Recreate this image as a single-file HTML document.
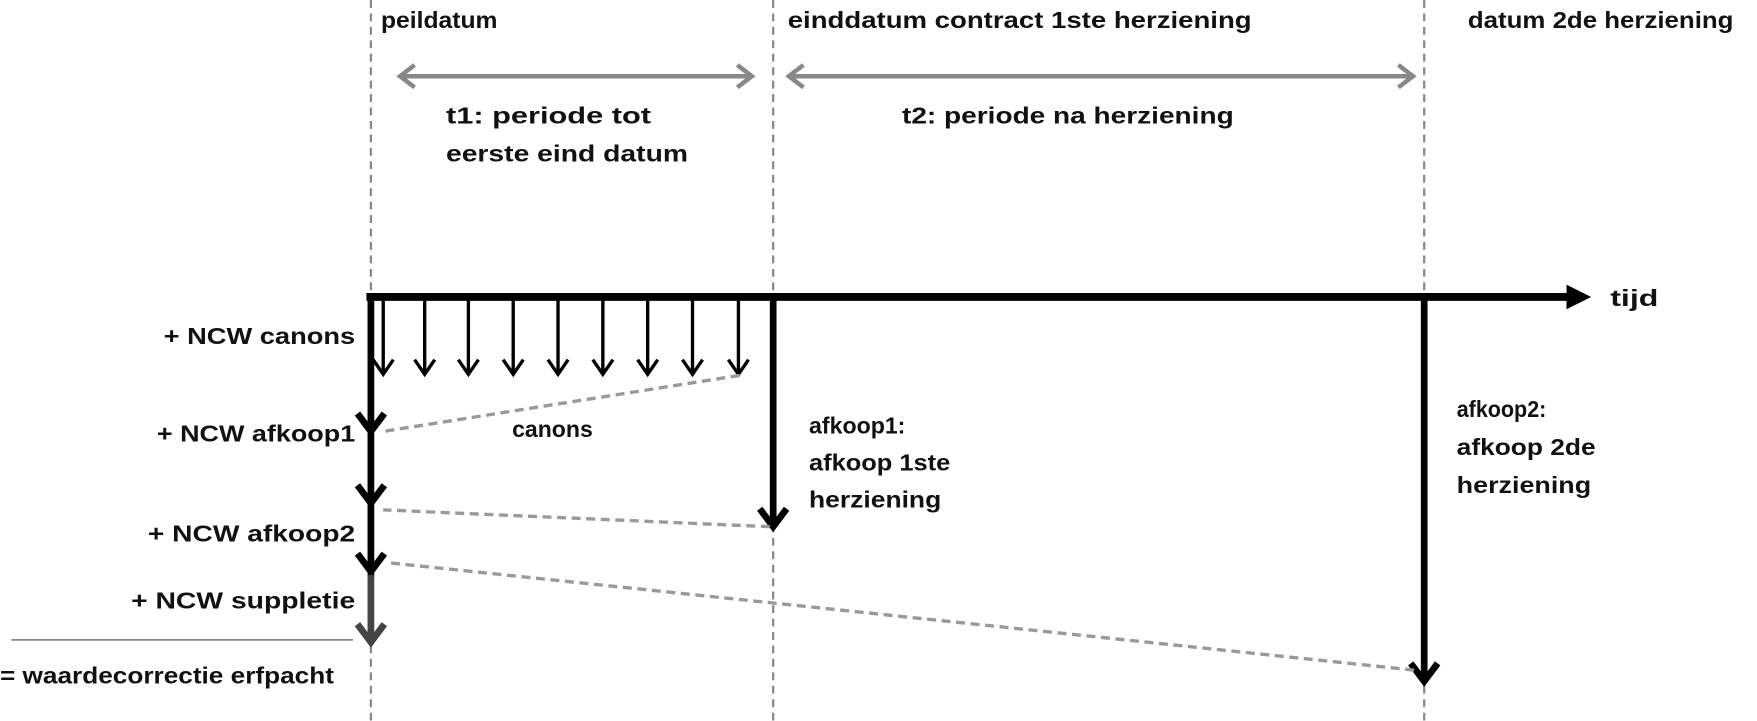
<!DOCTYPE html>
<html><head><meta charset="utf-8"><style>
html,body{margin:0;padding:0;background:#fff;overflow:hidden;}
svg{display:block;}
text{font-family:"Liberation Sans",sans-serif;font-weight:bold;font-size:21px;fill:#111;}
</style></head><body>
<svg width="1757" height="721" viewBox="0 0 1568 643.4" preserveAspectRatio="none" xmlns="http://www.w3.org/2000/svg">
<g stroke="#888" stroke-width="2" stroke-dasharray="7,5">
<line x1="331" y1="0" x2="331" y2="643"/>
<line x1="690" y1="0" x2="690" y2="643"/>
<line x1="1271" y1="0" x2="1271" y2="643"/>
</g>
<g stroke="#888" stroke-width="4" fill="none">
<line x1="360" y1="68" x2="668" y2="68"/>
<polyline points="370,58 357,68 370,78"/>
<polyline points="658,58 671,68 658,78"/>
<line x1="707" y1="68" x2="1258" y2="68"/>
<polyline points="717,58 704,68 717,78"/>
<polyline points="1248,58 1261,68 1248,78"/>
</g>
<line x1="327" y1="265" x2="1400" y2="265" stroke="#000" stroke-width="7"/>
<polygon points="1398,254 1420,265 1398,276" fill="#000"/>
<g stroke="#000" stroke-width="3" fill="none">
<line x1="342" y1="268" x2="342" y2="334"/><polyline points="333,321 342,334 351,321"/>
<line x1="379" y1="268" x2="379" y2="334"/><polyline points="370,321 379,334 388,321"/>
<line x1="418" y1="268" x2="418" y2="334"/><polyline points="409,321 418,334 427,321"/>
<line x1="458" y1="268" x2="458" y2="334"/><polyline points="449,321 458,334 467,321"/>
<line x1="498" y1="268" x2="498" y2="334"/><polyline points="489,321 498,334 507,321"/>
<line x1="538" y1="268" x2="538" y2="334"/><polyline points="529,321 538,334 547,321"/>
<line x1="578" y1="268" x2="578" y2="334"/><polyline points="569,321 578,334 587,321"/>
<line x1="618" y1="268" x2="618" y2="334"/><polyline points="609,321 618,334 627,321"/>
<line x1="659" y1="268" x2="659" y2="334"/><polyline points="650,321 659,334 668,321"/>
</g>
<g stroke="#000" stroke-width="6" fill="none">
<line x1="331" y1="262" x2="331" y2="515"/>
<polyline points="319,369 331,385 343,369"/>
<polyline points="319,433 331,449 343,433"/>
<polyline points="319,494 331,510 343,494"/>
<line x1="690" y1="262" x2="690" y2="470"/>
<polyline points="678,454 690,470 702,454"/>
<line x1="1271" y1="262" x2="1271" y2="608"/>
<polyline points="1259,592 1271,608 1283,592"/>
</g>
<g stroke="#444" stroke-width="6" fill="none">
<line x1="331" y1="513" x2="331" y2="573"/>
<polyline points="319,557 331,573 343,557"/>
</g>
<line x1="10" y1="571" x2="315" y2="571" stroke="#888" stroke-width="1.5"/>
<g stroke="#999" stroke-width="3" stroke-dasharray="8,5" fill="none">
<line x1="660" y1="335" x2="342" y2="385"/>
<line x1="687" y1="470" x2="342" y2="455"/>
<line x1="1262" y1="598" x2="345" y2="502"/>
</g>
<text x="340" y="25" textLength="104" lengthAdjust="spacingAndGlyphs">peildatum</text>
<text x="703" y="25" textLength="414" lengthAdjust="spacingAndGlyphs">einddatum contract 1ste herziening</text>
<text x="1310" y="25" textLength="237" lengthAdjust="spacingAndGlyphs">datum 2de herziening</text>
<text x="398" y="110" textLength="183" lengthAdjust="spacingAndGlyphs">t1: periode tot</text>
<text x="398" y="144" textLength="216" lengthAdjust="spacingAndGlyphs">eerste eind datum</text>
<text x="805" y="110" textLength="296" lengthAdjust="spacingAndGlyphs">t2: periode na herziening</text>
<text x="1437" y="273" textLength="43" lengthAdjust="spacingAndGlyphs">tijd</text>
<text x="146" y="307" textLength="171" lengthAdjust="spacingAndGlyphs">+ NCW canons</text>
<text x="457" y="390" textLength="72" lengthAdjust="spacingAndGlyphs">canons</text>
<text x="140" y="394" textLength="177" lengthAdjust="spacingAndGlyphs">+ NCW afkoop1</text>
<text x="132" y="483" textLength="185" lengthAdjust="spacingAndGlyphs">+ NCW afkoop2</text>
<text x="117" y="543" textLength="200" lengthAdjust="spacingAndGlyphs">+ NCW suppletie</text>
<text x="0" y="610" textLength="298" lengthAdjust="spacingAndGlyphs">= waardecorrectie erfpacht</text>
<text x="722" y="387" textLength="86" lengthAdjust="spacingAndGlyphs">afkoop1:</text>
<text x="722" y="420" textLength="126" lengthAdjust="spacingAndGlyphs">afkoop 1ste</text>
<text x="722" y="453" textLength="118" lengthAdjust="spacingAndGlyphs">herziening</text>
<text x="1300" y="372" textLength="80" lengthAdjust="spacingAndGlyphs">afkoop2:</text>
<text x="1300" y="406" textLength="124" lengthAdjust="spacingAndGlyphs">afkoop 2de</text>
<text x="1300" y="440" textLength="120" lengthAdjust="spacingAndGlyphs">herziening</text>
</svg>
</body></html>
